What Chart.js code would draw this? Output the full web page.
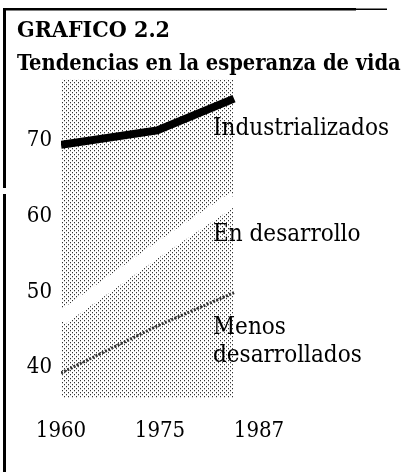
<!DOCTYPE html>
<html><head><meta charset="utf-8">
<script src="https://cdn.jsdelivr.net/npm/chart.js@4.4.1/dist/chart.umd.min.js"></script>
<style>html,body{margin:0;padding:0;background:#fff}canvas{display:block}</style>
</head><body>
<canvas id="c" width="410" height="472"></canvas>
<script>
// ---- data ----
const years = [1960, 1975, 1987];
const yearLabels = ['1960', '1975', '1987'];
const industrializados = [69.4, 71.3, 75.5];
const enDesarrollo = [46.5, 55.5, 62.3];
const menosDesarrollados = [39.3, 45.5, 49.9];
const seriesNames = [['Industrializados'], ['En desarrollo'], ['Menos', 'desarrollados']];
const yTicks = [40, 50, 60, 70];
const titleText = 'GRAFICO 2.2';
const subtitleText = 'Tendencias en la esperanza de vida';

// ---- styles ----
const FAMILY = "'DejaVu Serif Condensed', 'DejaVu Serif', serif";
const labelOffsets = [36, 42, 41]; // px below the last point of each series (baseline)
const toXY = arr => years.map((y, i) => ({x: y, y: arr[i]}));

function makePattern(ctx) {
  const c = document.createElement('canvas');
  c.width = 4; c.height = 4;
  const p = c.getContext('2d');
  p.fillStyle = '#fff'; p.fillRect(0, 0, 4, 4);
  p.fillStyle = '#333'; p.fillRect(0, 0, 1, 1); p.fillRect(2, 2, 1, 1);
  p.fillStyle = '#c8c8c8'; p.fillRect(0, 1, 1, 1); p.fillRect(2, 3, 1, 1);
  return ctx.createPattern(c, 'repeat');
}

const decor = {
  id: 'decor',
  beforeDraw(chart) {
    const ctx = chart.ctx;
    ctx.save();
    ctx.fillStyle = '#fff';
    ctx.fillRect(0, 0, chart.width, chart.height);
    ctx.fillStyle = '#000';
    // frame: top and left rules
    ctx.fillRect(3, 8, 353, 2.5);
    ctx.fillRect(356, 8.5, 31, 1.5);
    ctx.fillRect(3, 8, 3, 180);
    ctx.fillRect(3, 194, 3, 278);
    ctx.restore();
  },
  beforeDatasetsDraw(chart) {
    const ctx = chart.ctx, xs = chart.scales.x, ys = chart.scales.y;
    const x0 = xs.getPixelForValue(years[0]), x1 = xs.getPixelForValue(years[years.length - 1]);
    ctx.save();
    ctx.fillStyle = makePattern(ctx);
    ctx.fillRect(x0, ys.top, x1 - x0, ys.bottom - ys.top);
    ctx.restore();
  },
  afterDraw(chart) {
    const ctx = chart.ctx, xs = chart.scales.x, ys = chart.scales.y;
    const series = [industrializados, enDesarrollo, menosDesarrollados];
    ctx.save();
    ctx.fillStyle = '#000';
    ctx.font = "24px " + FAMILY;
    ctx.textBaseline = 'alphabetic';
    ctx.textAlign = 'left';
    const xl = xs.getPixelForValue(years[years.length - 1]) - 21;
    series.forEach((s, i) => {
      const yb = ys.getPixelForValue(s[s.length - 1]) + labelOffsets[i];
      seriesNames[i].forEach((line, j) => ctx.fillText(line, xl, yb + j * 28));
    });
    ctx.restore();
  }
};

new Chart(document.getElementById('c'), {
  type: 'line',
  data: {
    datasets: [
      {label: 'Industrializados', data: toXY(industrializados), borderColor: '#000', borderWidth: 8,
       borderCapStyle: 'butt', borderJoinStyle: 'miter', pointRadius: 0, tension: 0},
      {label: 'En desarrollo', data: toXY(enDesarrollo), borderColor: '#fff', borderWidth: 14,
       borderCapStyle: 'butt', pointRadius: 0, tension: 0},
      {label: 'Menos desarrollados', data: toXY(menosDesarrollados), borderColor: '#333', borderWidth: 3,
       borderDash: [2, 1.5], borderCapStyle: 'butt', pointRadius: 0, tension: 0}
    ]
  },
  options: {
    responsive: false,
    animation: false,
    events: [],
    layout: {padding: {left: 17, right: 0, top: 0, bottom: 0}},
    plugins: {
      legend: {display: false},
      tooltip: {enabled: false},
      title: {display: true, text: titleText, align: 'start', color: '#000',
              font: {family: FAMILY, size: 23, weight: 'bold', lineHeight: 1.2},
              padding: {top: 17, bottom: 0}},
      subtitle: {display: true, text: subtitleText, align: 'start', color: '#000',
              font: {family: FAMILY, size: 21.7, weight: 'bold', lineHeight: 1.2},
              padding: {top: 7, bottom: 2}}
    },
    scales: {
      x: {type: 'linear', display: false, min: 1960, max: 1990.9},
      xl: {type: 'category', labels: yearLabels, position: 'bottom', offset: false,
           grid: {display: false, drawTicks: false}, border: {display: false},
           ticks: {color: '#000', font: {family: FAMILY, size: 22}, padding: 20, maxRotation: 0, autoSkip: false},
           afterFit(s) { s.height = 74; }},
      y: {type: 'linear', min: 36, max: 78,
          grid: {display: false, drawTicks: false}, border: {display: false},
          afterBuildTicks(s) { s.ticks = yTicks.map(v => ({value: v})); },
          ticks: {color: '#000', font: {family: FAMILY, size: 22}, padding: 9},
          afterFit(s) { s.width = 44; }},
      yr: {type: 'linear', position: 'right', display: true, min: 36, max: 78,
           grid: {display: false, drawTicks: false}, border: {display: false},
           ticks: {display: false},
           afterFit(s) { s.width = 151; }}
    }
  },
  plugins: [decor]
});
</script>
</body></html>
